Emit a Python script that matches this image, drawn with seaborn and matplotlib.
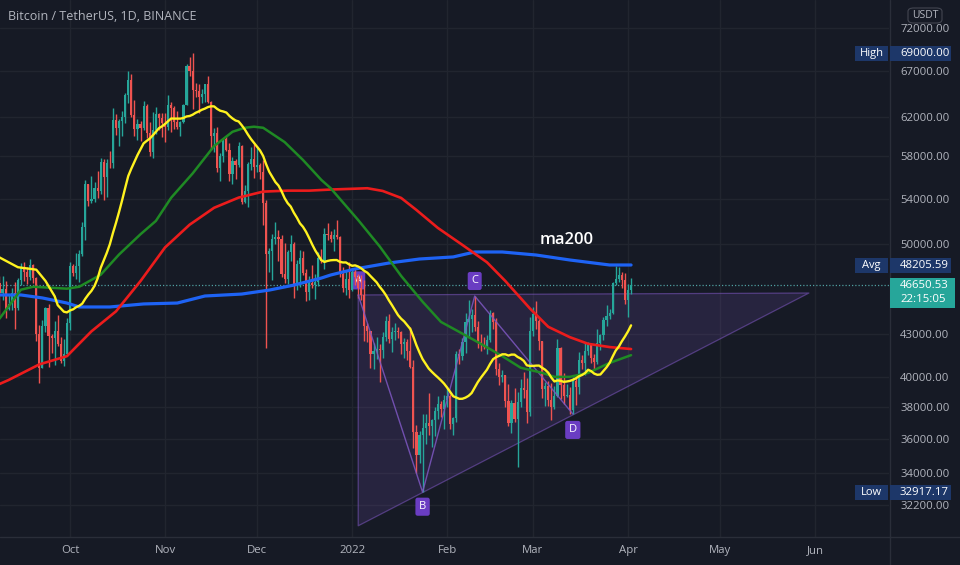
import matplotlib
matplotlib.use("Agg")
import matplotlib.pyplot as plt
import matplotlib.dates as mdates
from matplotlib.ticker import FixedLocator, NullLocator, FixedFormatter
from matplotlib.patches import Rectangle, FancyBboxPatch
from matplotlib.lines import Line2D
import numpy as np
import pandas as pd
import seaborn as sns

# ---------------- data ----------------
first_date = "2021-09-08"
first_open = 46811
close = [
    46048, 46395, 44850, 45174, 46025, 44940, 47111, 48121, 47737, 47300, 48314, 47261, 42960, 40588, 43574, 44895,
    42840, 42716, 43208, 42235, 41035, 41564, 43790,
    48165, 47632, 48200, 49224, 51471, 55315, 53785, 53951, 54949, 54659, 57471, 55996, 57367, 57347, 61672, 60875,
    61528, 62009, 64280, 66001, 62193, 60688, 61286, 60852, 63078, 60329, 58413, 60575, 62253, 61859, 61300,
    60911, 63219, 62896, 61395, 60937, 61470, 63273, 67525, 66947, 64882, 64774, 64122, 64380, 65519, 63606, 60058,
    60344, 56891, 58052, 59707, 58622, 56247, 57541, 57138, 58960, 53726, 54721, 57274, 57776, 56950,
    57184, 56480, 53601, 49152, 49396, 50441, 50588, 50471, 47545, 47140, 49389, 50053, 46702, 48343, 48864, 47632,
    46131, 46834, 46681, 46914, 48889, 48588, 50838, 50821, 50429, 50809, 50640, 47588, 46444, 47178, 46306,
    47686, 47345, 46458, 45897, 43569, 43160, 41557, 41733, 41911, 41821, 42735, 43949, 42591, 43099, 43177, 43113,
    42250, 42375, 41744, 40680, 36445, 35071, 36244, 36660, 36958, 36809, 37160, 37716, 38166, 37881, 38467,
    38694, 36897, 37311, 41574, 41382, 42380, 43840, 44043, 44373, 43495, 42373, 42217, 42053, 42535, 44544, 43873,
    40515, 39974, 40080, 38386, 37008, 38230, 37250, 38328, 39219, 39116, 37699, 43160,
    44421, 43892, 42454, 39148, 39397, 38420, 37988, 38730, 41941, 39422, 38729, 38807, 37777, 39671, 39280, 41114,
    40917, 41757, 42201, 41262, 41002, 42364, 42882, 43991, 44313, 44511, 46827, 47122, 47434, 47067, 45510,
    46283, 46650.53,
]
high = [
    47400, 47399, 47033, 45988, 46460, 46880, 47250, 48450, 48500, 48150, 48800, 48370, 47330, 43640, 44000, 44980,
    45200, 42970, 43950, 44350, 42790, 42600, 44130,
    48495, 48340, 49230, 49530, 51890, 55750, 55330, 56100, 55490, 56560, 57839, 57680, 57750, 58530, 62933, 62330,
    61720, 62614, 64486, 67000, 66639, 63732, 61747, 61500, 63710, 63293, 61496, 62499, 62980, 62359, 62405,
    62437, 64270, 63516, 63086, 62595, 61560, 63286, 67789, 68530, 69000, 65600, 65460, 64972, 65550, 66401, 63617,
    60840, 60976, 58351, 59859, 60029, 59266, 57875, 57735, 59398, 59150, 55280, 57445, 58865, 59176,
    59041, 57375, 57600, 53869, 49700, 50891, 51936, 51200, 50797, 50100, 49485, 50797, 50205, 48700, 49500, 49436,
    47995, 47360, 48300, 47537, 49328, 49576, 51375, 51810, 51156, 51280, 52088, 50704, 48119, 47900, 48548,
    47954, 47990, 47570, 47505, 47070, 43816, 43200, 42300, 42786, 42248, 43100, 44322, 44458, 43459, 43800, 43476,
    43200, 42691, 42590, 43505, 41100, 36835, 36499, 37550, 37545, 38919, 37234, 38000, 38720, 38359, 38744,
    39265, 38855, 37387, 41772, 41913, 42656, 44500, 45492, 44799, 45821, 43920, 43000, 42760, 42876, 44770, 44583,
    44164, 40959, 40444, 40125, 39494, 38430, 39249, 38968, 39843, 40300, 39880, 44225,
    44949, 45400, 44102, 42500, 39666, 39693, 39547, 39362, 42594, 42039, 40236, 39486, 39310, 39947, 39887, 41718,
    41478, 42325, 42400, 42296, 41544, 43361, 43000, 44220, 45094, 44820, 46890, 48189, 48096, 47700, 47600,
    46720, 47213,
]
low = [
    44412, 45513, 44132, 44722, 44742, 43370, 44750, 46700, 47020, 46750, 47050, 46870, 42500, 39600, 40550, 43100,
    40680, 41650, 40800, 42100, 40900, 40750, 41410,
    43290, 47430, 47120, 46890, 49000, 50380, 53360, 53600, 53660, 54080, 54415, 53880, 54170, 56818, 56850, 60150,
    58963, 60012, 61322, 63481, 62000, 60000, 59562, 59510, 60650, 59817, 58000, 57820, 60174, 60673, 59945,
    59405, 60624, 60382, 60677, 60721, 60050, 61322, 63273, 66382, 62822, 64100, 62333, 63400, 63576, 63400, 58574,
    58373, 56474, 55600, 57469, 58486, 55610, 55317, 55837, 57000, 53500, 53610, 53256, 56666, 55875,
    56458, 55777, 51680, 42000, 47727, 47100, 50039, 48600, 47320, 46852, 46751, 48638, 45672, 46290, 46547, 47511,
    45456, 45524, 46406, 45558, 46630, 48421, 47920, 50384, 50171, 49412, 50449, 47313, 46096, 45900, 45678,
    46208, 46654, 45696, 45502, 42500, 42430, 40610, 40501, 41200, 39650, 41268, 42450, 42311, 41725, 42578, 42693,
    41540, 41250, 41138, 40553, 35440, 34008, 34601, 32917.17, 35705, 36234, 35507, 36155, 37268, 37351, 36632,
    38000, 36586, 36250, 37052, 40843, 41116, 41645, 42666, 43117, 43174, 42000, 41748, 41870, 41570, 42427, 43310,
    40073, 39450, 39639, 38000, 36800, 36350, 37036, 34322, 38014, 38573, 37000, 37450,
    42809, 43334, 41832, 38550, 38088, 38088, 37155, 37867, 38656, 38539, 38223, 38660, 37578, 37555, 38098, 38828,
    40500, 40135, 41499, 40911, 40467, 40875, 41820, 42560, 43579, 44072, 44421, 46663, 46950, 46445, 45200,
    44200, 45970,
]

ma20_period = 20
ma20_early_dates = ["2021-09-08", "2021-09-11", "2021-09-14", "2021-09-17", "2021-09-20", "2021-09-23",
                    "2021-09-26"]
ma20_early_vals = [48900, 48500, 48100, 48000, 47900, 47000, 45800]

ma50_dates = ["2021-09-08", "2021-09-15", "2021-09-19", "2021-09-30", "2021-10-04", "2021-10-11", "2021-10-17",
              "2021-10-24", "2021-10-29", "2021-11-03", "2021-11-10", "2021-11-17", "2021-11-23", "2021-11-27",
              "2021-11-30", "2021-12-03", "2021-12-10", "2021-12-16", "2021-12-22", "2021-12-25", "2022-01-03",
              "2022-01-10", "2022-01-17", "2022-01-24", "2022-01-30", "2022-02-06", "2022-02-12", "2022-02-19",
              "2022-02-25", "2022-03-04", "2022-03-08", "2022-03-13", "2022-03-19", "2022-03-26", "2022-04-02"]
ma50_vals = [44100, 46310, 46540, 46390, 46540, 47490, 49140, 50850, 52000, 54080, 56340, 59000, 60440, 60850,
             60960, 60850, 59400, 57630, 55720, 54960, 52080, 49820, 47400, 45380, 43860, 43000, 42270, 41400,
             40600, 40250, 39980, 39980, 40250, 40930, 41470]

ma100_dates = ["2021-09-08", "2021-09-11", "2021-09-21", "2021-09-30", "2021-10-08", "2021-10-16", "2021-10-24",
               "2021-11-01", "2021-11-09", "2021-11-17", "2021-11-25", "2021-12-03", "2021-12-11", "2021-12-18",
               "2021-12-25", "2022-01-01", "2022-01-06", "2022-01-11", "2022-01-17", "2022-01-22", "2022-01-29",
               "2022-02-06", "2022-02-14", "2022-02-20", "2022-02-28", "2022-03-06", "2022-03-13", "2022-03-19",
               "2022-03-26", "2022-04-02"]
ma100_vals = [39500, 39770, 40830, 41400, 43170, 44650, 46990, 49730, 51670, 53170, 54090, 54640, 54730, 54730,
              54830, 54900, 54950, 54700, 54060, 52970, 51390, 49940, 48500, 46990, 44870, 43500, 42750, 42270,
              42040, 41900]

ma200_dates = ["2021-09-08", "2021-09-15", "2021-09-22", "2021-09-30", "2021-10-04", "2021-10-14", "2021-10-25",
               "2021-11-05", "2021-11-14", "2021-11-26", "2021-12-05", "2021-12-13", "2021-12-22", "2021-12-25",
               "2022-01-02", "2022-01-13", "2022-01-23", "2022-02-03", "2022-02-10", "2022-02-19", "2022-03-02",
               "2022-03-13", "2022-03-26", "2022-04-02"]
ma200_vals = [45900, 45900, 45670, 45280, 44980, 44980, 45210, 45280, 45820, 45970, 46280, 46670, 47230, 47470,
              47960, 48440, 48770, 48940, 49350, 49350, 49100, 48690, 48280, 48280]

pattern_names = ["A", "B", "C", "D"]
pattern_dates = ["2022-01-03", "2022-01-24", "2022-02-10", "2022-03-14"]
pattern_prices = [45900, 32917.17, 45821, 37555]
triangle_dates = ["2022-01-03", "2022-05-30", "2022-01-03"]
triangle_prices = [45900, 46050, 31100]

yticks = [72000, 67000, 62000, 58000, 54000, 50000, 43000, 40000, 38000, 36000, 34000, 32200]
month_dates = ["2021-10-01", "2021-11-01", "2021-12-01", "2022-01-01", "2022-02-01", "2022-03-01",
               "2022-04-01", "2022-05-01", "2022-06-01"]
month_labels = ["Oct", "Nov", "Dec", "2022", "Feb", "Mar", "Apr", "May", "Jun"]

title = "Bitcoin / TetherUS, 1D, BINANCE"
high_val, avg_val, low_val, last_val = 69000.00, 48205.59, 32917.17, 46650.53
countdown = "22:15:05"

# ---------------- style ----------------
BG = "#161a25"
TXT = "#b2b5be"
GRID = "#21252f"
UP = "#26a69a"
DN = "#ef5350"
PURPLE = "#7e57c2"

sns.set_theme(style="dark", rc={"axes.facecolor": BG, "figure.facecolor": BG, "savefig.facecolor": BG})
plt.rcParams["font.family"] = ["Open Sans", "DejaVu Sans"]

W, H = 960, 565
fig = plt.figure(figsize=(W / 100, H / 100), dpi=100)
PLOT_R, PLOT_B = 889, 537
ax = fig.add_axes([0, 1 - PLOT_B / H, PLOT_R / W, PLOT_B / H])
ax.set_facecolor(BG)

d2n = lambda s: mdates.date2num(pd.to_datetime(s))
dates = pd.date_range(first_date, periods=len(close), freq="D")
x = mdates.date2num(dates)
c = np.array(close, dtype=float)
o = np.array([first_open] + close[:-1], dtype=float)
hi = np.array(high, dtype=float)
lo = np.array(low, dtype=float)
cols = np.where(c >= o, UP, DN)

ax.set_yscale("log")
oct1 = d2n("2021-10-01")
PXD = (628 - 70) / 182.0
ax.set_xlim(oct1 - 70 / PXD, oct1 + (PLOT_R - 70) / PXD)
ax.set_ylim(30518, 75481)

# triangle drawing
tx = [d2n(s) for s in triangle_dates]
ax.fill(tx, triangle_prices, color=PURPLE, alpha=0.17, lw=0, zorder=1)
ax.plot(tx + [tx[0]], triangle_prices + [triangle_prices[0]], color=PURPLE, alpha=0.55, lw=0.9, zorder=1.1)

# last price dotted line
ax.axhline(last_val, color="#4f9ea0", lw=0.9, ls=(0, (1, 1.6)), zorder=1.2)

# candles
ax.vlines(x, lo, hi, colors=cols, lw=1, zorder=3)
ax.bar(x, np.abs(c - o) + 1e-6, bottom=np.minimum(o, c), width=0.7, color=cols, lw=0, zorder=3)

# moving averages via seaborn
sma20 = pd.Series(c, index=x).rolling(ma20_period).mean().dropna()
ma20_df = pd.concat([
    pd.DataFrame({"x": [d2n(s) for s in ma20_early_dates], "v": ma20_early_vals}),
    pd.DataFrame({"x": sma20.index.values, "v": sma20.values}),
], ignore_index=True)

line_specs = [
    (pd.DataFrame({"x": [d2n(s) for s in ma200_dates], "v": ma200_vals}), "#1e63f5", 2.3),
    (pd.DataFrame({"x": [d2n(s) for s in ma100_dates], "v": ma100_vals}), "#ec1c1c", 1.9),
    (pd.DataFrame({"x": [d2n(s) for s in ma50_dates], "v": ma50_vals}), "#1f8a24", 1.8),
    (ma20_df, "#fff21f", 1.7),
]
for df, col, lw in line_specs:
    sns.lineplot(data=df, x="x", y="v", ax=ax, color=col, lw=lw, estimator=None, sort=True, zorder=5)

# ABCD pattern
px_ = [d2n(s) for s in pattern_dates]
ax.plot(px_, pattern_prices, color=PURPLE, lw=1, alpha=0.85, zorder=4)
offs = {"A": 10.5, "B": -10.5, "C": 10.8, "D": -11.5}
for n, xx, yy in zip(pattern_names, px_, pattern_prices):
    ax.annotate(n, xy=(xx, yy), xytext=(0, offs[n]), textcoords="offset points", ha="center", va="center",
                color="white", fontsize=8, zorder=2.5 if n == "A" else 6,
                bbox=dict(boxstyle="round,pad=0.32,rounding_size=0.2", fc="#6a3dc2", ec="none"))

ax.text(d2n("2022-03-12"), 50400, "ma200", ha="center", va="center", color="white", fontsize=12,
        fontweight="semibold", zorder=6)

# axes styling
ax.set_xlabel("")
ax.set_ylabel("")
ax.yaxis.tick_right()
ax.yaxis.set_major_locator(FixedLocator(yticks))
ax.yaxis.set_major_formatter(FixedFormatter([f"{v:.2f}" for v in yticks]))
ax.yaxis.set_minor_locator(NullLocator())
ax.xaxis.set_major_locator(FixedLocator([d2n(s) for s in month_dates]))
ax.xaxis.set_major_formatter(FixedFormatter(month_labels))
ax.xaxis.set_minor_locator(NullLocator())
ax.tick_params(axis="y", length=0, pad=8, labelsize=8.2, labelcolor=TXT)
ax.tick_params(axis="x", length=0, pad=6, labelsize=8.2, labelcolor=TXT)
ax.grid(True, color=GRID, lw=1)
ax.set_axisbelow(True)
for sp in ax.spines.values():
    sp.set_visible(False)

fig.add_artist(Line2D([PLOT_R / W + 0.5 / W] * 2, [0, 1], color="#2a2e39", lw=1, transform=fig.transFigure))
fig.add_artist(Line2D([0, 1], [1 - PLOT_B / H] * 2, color="#2a2e39", lw=1, transform=fig.transFigure))

fig.text(8 / W, 1 - 16 / H, title, color=TXT, fontsize=9, ha="left", va="center")

# price scale labels
fig.canvas.draw()
def ypx(price):
    return ax.transData.transform((ax.get_xlim()[0], price))[1]

def box(x0, x1, yc, h, fc, z=10):
    fig.add_artist(Rectangle((x0 / W, (yc - h / 2) / H), (x1 - x0) / W, h / H, transform=fig.transFigure,
                             fc=fc, ec="none", zorder=z))

NAVY = "#1d3769"
for name, val in [("High", high_val), ("Avg", avg_val), ("Low", low_val)]:
    yc = ypx(val)
    box(855, 888, yc, 15, NAVY)
    box(890, 951, yc, 15, NAVY)
    fig.text(871.5 / W, yc / H, name, color="white", fontsize=8, ha="center", va="center", zorder=11)
    fig.text(900 / W, yc / H, f"{val:.2f}", color="white", fontsize=8.2, ha="left", va="center", zorder=11)

yc = ypx(last_val)
fig.add_artist(Rectangle((890 / W, (yc - 22.5) / H), 65 / W, 30 / H, transform=fig.transFigure,
                         fc=UP, ec="none", zorder=10))
fig.text(900 / W, yc / H, f"{last_val:.2f}", color="white", fontsize=8.2, ha="left", va="center", zorder=11)
fig.text(900 / W, (yc - 14.5) / H, countdown, color="white", fontsize=8.2, ha="left", va="center", zorder=11)

fig.add_artist(FancyBboxPatch((908 / W, (H - 23) / H), 34 / W, 15 / H, transform=fig.transFigure,
                              boxstyle="round,pad=0,rounding_size=0.006", fc=BG, ec="#434651", lw=0.8, zorder=10))
fig.text(925 / W, (H - 15.5) / H, "USDT", color=TXT, fontsize=7.5, ha="center", va="center", zorder=11)

fig.savefig("out.png", dpi=100, facecolor=BG)
